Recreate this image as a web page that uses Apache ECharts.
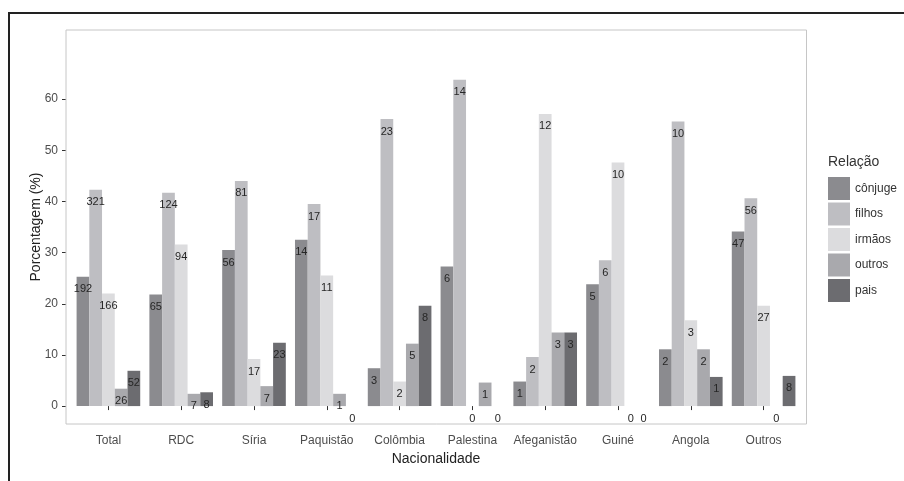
<!DOCTYPE html>
<html>
<head>
<meta charset="utf-8">
<script src="https://cdn.jsdelivr.net/npm/echarts@6/dist/echarts.min.js"></script>
<style>
html,body{margin:0;padding:0;background:#fff;}
#chart{width:904px;height:481px;}
</style>
</head>
<body>
<div id="chart"></div>
<script>
const categories = ['Total','RDC','Síria','Paquistão','Colômbia','Palestina','Afeganistão','Guiné','Angola','Outros'];
const seriesNames = ['cônjuge','filhos','irmãos','outros','pais'];
// percentages
const conjuge = [25.3,21.8,30.5,32.5,7.4,27.3,4.8,23.8,11.1,34.1];
const filhos  = [42.3,41.7,44.0,39.5,56.1,63.8,9.6,28.5,55.6,40.6];
const irmaos  = [22.0,31.6,9.2,25.5,4.8,0,57.1,47.6,16.8,19.6];
const outros  = [3.4,2.4,3.9,2.4,12.2,4.6,14.4,0,11.1,0];
const pais    = [6.9,2.7,12.4,0,19.6,0,14.4,0,5.7,5.9];
// counts (bar labels)
const conjugeN = [192,65,56,14,3,6,1,5,2,47];
const filhosN  = [321,124,81,17,23,14,2,6,10,56];
const irmaosN  = [166,94,17,11,2,0,12,10,3,27];
const outrosN  = [26,7,7,1,5,1,3,0,2,0];
const paisN    = [52,8,23,0,8,0,3,0,1,8];
const yTicks = [0,10,20,30,40,50,60];

const values = [conjuge, filhos, irmaos, outros, pais];
const counts = [conjugeN, filhosN, irmaosN, outrosN, paisN];
const colors = ['#8b8b8f','#bebec2','#dcdcde','#a9a9ad','#6c6c70'];
const FONT = 'Liberation Sans, Arial, sans-serif';

const chart = echarts.init(document.getElementById('chart'), null, {renderer:'canvas'});
const series = seriesNames.map((name, i) => ({
  name: name,
  type: 'bar',
  data: values[i],
  barGap: '0%',
  barCategoryGap: '12.6%',
  itemStyle: {color: colors[i]},
  label: {
    show: true,
    position: 'insideTop',
    distance: 7,
    color: '#262626',
    fontSize: 11,
    fontFamily: FONT,
    formatter: p => String(counts[i][p.dataIndex])
  },
  emphasis: {disabled: true},
  animation: false
}));

chart.setOption({
  animation: false,
  backgroundColor: '#ffffff',
  title: {
    text: 'Relação',
    left: 828,
    top: 155,
    padding: 0,
    textStyle: {fontSize: 14, fontWeight: 'normal', color: '#333', fontFamily: FONT}
  },
  legend: {
    orient: 'vertical',
    left: 828,
    top: 177,
    padding: 0,
    itemWidth: 22,
    itemHeight: 23,
    itemGap: 2.5,
    icon: 'rect',
    data: seriesNames,
    textStyle: {fontSize: 12, color: '#333', fontFamily: FONT},
    selectedMode: false
  },
  grid: {left: 72, right: 104, top: 30, bottom: 57, containLabel: false},
  xAxis: {
    type: 'category',
    data: categories,
    axisLine: {show: false},
    axisTick: {show: true, alignWithLabel: true, length: 4, lineStyle: {color: '#333'}},
    axisLabel: {color: '#4d4d4d', fontSize: 12, fontFamily: FONT, margin: 11, interval: 0},
    name: 'Nacionalidade',
    nameLocation: 'middle',
    nameGap: 28,
    nameMoveOverlap: false,
    nameTextStyle: {fontSize: 14, color: '#222', fontFamily: FONT},
    splitLine: {show: false}
  },
  yAxis: {
    type: 'value',
    min: -3.5,
    max: 73.5,
    offset: 6,
    axisLine: {show: false},
    axisTick: {show: true, length: 4, lineStyle: {color: '#333'}, customValues: yTicks},
    axisLabel: {color: '#4d4d4d', fontSize: 12, fontFamily: FONT, margin: 8, customValues: yTicks},
    splitLine: {show: false},
    name: 'Porcentagem (%)',
    nameLocation: 'middle',
    nameGap: 23,
    nameMoveOverlap: false,
    nameTextStyle: {fontSize: 14, color: '#222', fontFamily: FONT}
  },
  graphic: [
    {type: 'rect', shape: {x: 66, y: 30, width: 740.5, height: 394}, style: {fill: 'none', stroke: '#c6c6c6', lineWidth: 1}, z: 100, silent: true},
    {type: 'line', shape: {x1: 8, y1: 13, x2: 904, y2: 13}, style: {stroke: '#222', lineWidth: 2}, silent: true},
    {type: 'line', shape: {x1: 9, y1: 12, x2: 9, y2: 481}, style: {stroke: '#222', lineWidth: 2}, silent: true}
  ],
  series: series
});
</script>
</body>
</html>
